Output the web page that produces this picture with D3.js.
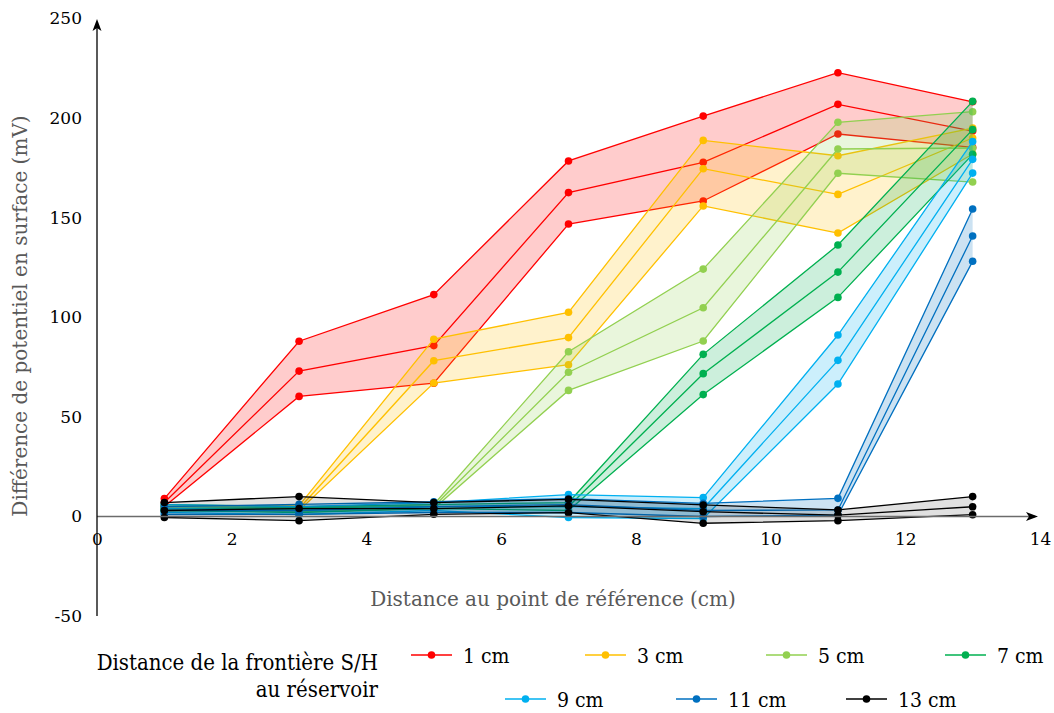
<!DOCTYPE html>
<html>
<head>
<meta charset="utf-8">
<script src="https://cdn.jsdelivr.net/npm/d3@7"></script>
<style>
  body { margin: 0; background: #fff; }
  svg { display: block; }
</style>
</head>
<body>
<svg id="chart" width="1054" height="713"></svg>
<script>
// ---------- data ----------
const xValues = [1, 3, 5, 7, 9, 11, 13];
const yTicks = [-50, 0, 50, 100, 150, 200, 250];
const xTicks = [0, 2, 4, 6, 8, 10, 12, 14];

const seriesLabels = ["1 cm", "3 cm", "5 cm", "7 cm", "9 cm", "11 cm", "13 cm"];
const seriesColors = ["#FF0000", "#FFC000", "#92D050", "#00B050", "#00B0F0", "#0070C0", "#000000"];

const cm1Hi  = [9, 88, 111.4, 178.5, 201, 222.8, 208.2];
const cm1Mid = [7, 73, 85.8, 162.6, 177.8, 206.9, 193.5];
const cm1Lo  = [5, 60.3, 66.9, 146.8, 158.4, 192, 185.3];

const cm3Hi  = [5, 5.5, 89, 102.5, 188.8, 181.1, 195];
const cm3Mid = [4, 4, 78.2, 89.8, 174.6, 161.7, 190];
const cm3Lo  = [3, 3, 67, 76.2, 155.9, 142.3, 182];

const cm5Hi  = [5, 4.5, 6, 82.7, 124.2, 197.9, 203.2];
const cm5Mid = [4, 3.5, 5, 72.4, 104.8, 184.5, 185];
const cm5Lo  = [3, 2.5, 4, 63.3, 88.1, 172.3, 167.9];

const cm7Hi  = [6, 5, 6, 7, 81.4, 136.3, 208.4];
const cm7Mid = [4, 4.4, 5, 5, 71.7, 122.7, 194.2];
const cm7Lo  = [3, 2, 4, 3, 61.2, 110, 181.8];

const cm9Hi  = [6, 5, 7, 11, 9.5, 91.1, 188.2];
const cm9Mid = [4, 3, 5, 5, 4, 78.4, 179.3];
const cm9Lo  = [2, 1, 3, -0.5, -1, 66.5, 172.4];

const cm11Hi  = [5, 6.1, 7.4, 9, 6.6, 9.1, 154.4];
const cm11Mid = [3, 3, 5, 6, 3, 3.3, 140.8];
const cm11Lo  = [1, 1.1, 2, 2, 0, 0.7, 128.1];

const cm13Hi  = [7, 10, 7, 8.6, 5.8, 3.3, 10];
const cm13Mid = [3, 4, 4, 5.3, 2.4, 0.7, 4.9];
const cm13Lo  = [-0.5, -2.1, 1.1, 1.9, -3.4, -2.1, 0.9];

const seriesHi  = [cm1Hi, cm3Hi, cm5Hi, cm7Hi, cm9Hi, cm11Hi, cm13Hi];
const seriesMid = [cm1Mid, cm3Mid, cm5Mid, cm7Mid, cm9Mid, cm11Mid, cm13Mid];
const seriesLo  = [cm1Lo, cm3Lo, cm5Lo, cm7Lo, cm9Lo, cm11Lo, cm13Lo];

// ---------- layout ----------
const svg = d3.select("#chart");
const x = d3.scaleLinear().domain([0, 14]).range([97, 1040]);
const y = d3.scaleLinear().domain([-50, 250]).range([616.1, 18.5]);

const serif = "'DejaVu Serif', serif";
const condSerif = "'DejaVu Serif Condensed', 'DejaVu Serif', serif";

// fills, lines, dots per series
const area = d3.area().x(d => x(d.x)).y0(d => y(d.lo)).y1(d => y(d.hi));
const line = d3.line().x(d => x(d.x)).y(d => y(d.v));

seriesLabels.forEach((lab, i) => {
  const col = seriesColors[i];
  const g = svg.append("g").attr("class", "series");
  const rows = xValues.map((xv, j) => ({
    x: xv,
    hi: Math.max(seriesHi[i][j], seriesLo[i][j]),
    lo: Math.min(seriesHi[i][j], seriesLo[i][j])
  }));
  g.append("path").datum(rows).attr("d", area)
    .attr("fill", col).attr("fill-opacity", i === 6 ? 0.12 : 0.2).attr("stroke", "none");
  [seriesHi[i], seriesMid[i], seriesLo[i]].forEach(arr => {
    const pts = xValues.map((xv, j) => ({ x: xv, v: arr[j] }));
    g.append("path").datum(pts).attr("d", line)
      .attr("fill", "none").attr("stroke", col).attr("stroke-width", 1.3);
  });
  [seriesHi[i], seriesMid[i], seriesLo[i]].forEach(arr => {
    g.selectAll(null).data(xValues.map((xv, j) => ({ x: xv, v: arr[j] })))
      .enter().append("circle")
      .attr("cx", d => x(d.x)).attr("cy", d => y(d.v)).attr("r", 3.8)
      .attr("fill", col);
  });
});

// axes
const yAxis = svg.append("g").attr("transform", `translate(${x(0)},0)`)
  .call(d3.axisLeft(y).tickValues(yTicks).tickSize(0).tickPadding(15).tickFormat(d => String(d)));
yAxis.select(".domain").remove();
yAxis.selectAll("text").attr("font-family", serif).attr("font-size", 17).attr("fill", "#000");

const xAxis = svg.append("g").attr("transform", `translate(0,${y(0)})`)
  .call(d3.axisBottom(x).tickValues(xTicks).tickSize(0).tickPadding(16).tickFormat(d => String(d)));
xAxis.select(".domain").remove();
xAxis.selectAll("text").attr("font-family", serif).attr("font-size", 17).attr("fill", "#000");

// axis lines with arrows
svg.append("line").attr("x1", x(0)).attr("x2", 1035).attr("y1", y(0)).attr("y2", y(0))
  .attr("stroke", "#6b6b6b").attr("stroke-width", 1.3);
svg.append("path")
  .attr("d", `M1038,${y(0)} L1026,${y(0) - 4.5} L1029,${y(0)} L1026,${y(0) + 4.5} Z`)
  .attr("fill", "#000");
svg.append("line").attr("x1", x(0)).attr("x2", x(0)).attr("y1", y(-50)).attr("y2", 22)
  .attr("stroke", "#000").attr("stroke-width", 1.3);
svg.append("path")
  .attr("d", `M${x(0)},19 L${x(0) - 4.5},31 L${x(0)},28 L${x(0) + 4.5},31 Z`)
  .attr("fill", "#000");

// axis titles
svg.append("text").attr("x", 553).attr("y", 606).attr("text-anchor", "middle")
  .attr("font-family", serif).attr("font-size", 20).attr("fill", "#595959")
  .text("Distance au point de référence (cm)");
svg.append("text").attr("transform", "translate(27,316) rotate(-90)").attr("text-anchor", "middle")
  .attr("font-family", serif).attr("font-size", 20).attr("fill", "#595959")
  .text("Différence de potentiel en surface (mV)");

// legend
svg.append("text").attr("x", 378).attr("y", 670).attr("text-anchor", "end")
  .attr("font-family", condSerif).attr("font-stretch", "condensed").attr("font-size", 22).attr("fill", "#000")
  .text("Distance de la frontière S/H");
svg.append("text").attr("x", 378).attr("y", 697).attr("text-anchor", "end")
  .attr("font-family", condSerif).attr("font-stretch", "condensed").attr("font-size", 22).attr("fill", "#000")
  .text("au réservoir");

const legendPos = [
  [411, 655], [585, 655], [766, 655], [945, 655],
  [505, 699], [676, 699], [846, 699]
];
seriesLabels.forEach((lab, i) => {
  const [lx, ly] = legendPos[i];
  const g = svg.append("g").attr("transform", `translate(${lx},${ly})`);
  g.append("line").attr("x1", 0).attr("x2", 41).attr("y1", 0).attr("y2", 0)
    .attr("stroke", seriesColors[i]).attr("stroke-width", 1.5);
  g.append("circle").attr("cx", 20.5).attr("cy", 0).attr("r", 3.8).attr("fill", seriesColors[i]);
  g.append("text").attr("x", 52).attr("y", 7.5)
    .attr("font-family", condSerif).attr("font-stretch", "condensed").attr("font-size", 21).attr("fill", "#000")
    .text(lab);
});
</script>
</body>
</html>
